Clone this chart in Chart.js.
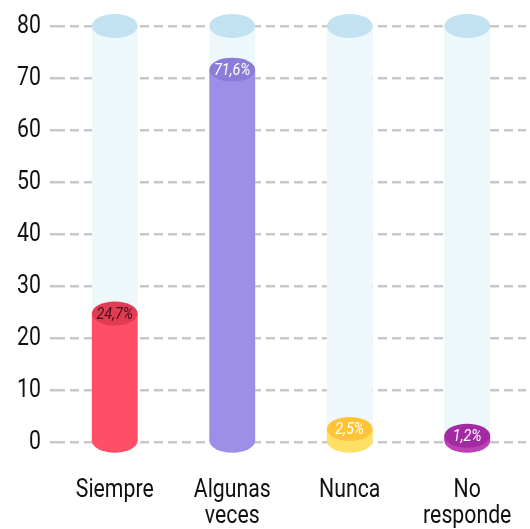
<!DOCTYPE html>
<html>
<head>
<meta charset="utf-8">
<script src="https://cdn.jsdelivr.net/npm/chart.js@4"></script>
<style>
  html, body { margin: 0; padding: 0; background: #fff; }
  #wrap { width: 530px; height: 529px; }
</style>
</head>
<body>
<div id="wrap"><canvas id="chart" width="530" height="529"></canvas></div>
<script>
// chart data
const categories = [['Siempre'], ['Algunas', 'veces'], ['Nunca'], ['No', 'responde']];
const values = [24.7, 71.6, 2.5, 1.2];
const maxValues = [80, 80, 80, 80];
const valueLabels = ['24,7%', '71,6%', '2,5%', '1,2%'];
const yTicks = [0, 10, 20, 30, 40, 50, 60, 70, 80];

// colours
const bodyColors = ['#ff4f68', '#9d8ee8', '#ffe066', '#bb40b5'];
const topColors = ['#e23c55', '#8a7cd8', '#ffc435', '#a32aa2'];
const labelColors = ['#4a0f1a', '#ffffff', '#ffffff', '#ffffff'];
const ghostBody = '#eef7fa';
const ghostTop = '#c2e1f1';

const FONT = "Roboto, 'Liberation Sans', sans-serif";
const SQUEEZE = 0.85; // narrow the text like a condensed face

function ellipse(ctx, x, y, rx, ry, color) {
    ctx.beginPath();
    ctx.ellipse(x, y, rx, ry, 0, 0, Math.PI * 2);
    ctx.fillStyle = color;
    ctx.fill();
}

function cylinder(ctx, x, top, bottom, w, body, cap, withBottom) {
    const rx = w / 2, ry = 12;
    ctx.fillStyle = body;
    ctx.fillRect(x - rx, top, w, bottom - top);
    if (withBottom) ellipse(ctx, x, bottom, rx, ry, body);
    ellipse(ctx, x, top, rx, ry, cap);
}

function narrowText(ctx, text, x, y, align) {
    ctx.save();
    ctx.translate(x, y);
    ctx.scale(SQUEEZE, 1);
    ctx.textAlign = align;
    ctx.fillText(text, 0, 0);
    ctx.restore();
}

const cylinderPlugin = {
    id: 'cylinders',
    afterDatasetsDraw(chart) {
        const ctx = chart.ctx;
        const ghost = chart.getDatasetMeta(0).data;
        const bars = chart.getDatasetMeta(1).data;
        ctx.save();
        ghost.forEach(el => {
            cylinder(ctx, el.x, el.y, el.base, el.width, ghostBody, ghostTop, false);
        });
        bars.forEach((el, i) => {
            cylinder(ctx, el.x, el.y, el.base, el.width, bodyColors[i], topColors[i], true);
            ctx.fillStyle = labelColors[i];
            ctx.font = 'italic 17px ' + FONT;
            ctx.textBaseline = 'middle';
            narrowText(ctx, valueLabels[i], el.x, el.y + 1, 'center');
        });
        ctx.restore();
    },
    afterDraw(chart) {
        const ctx = chart.ctx;
        const xs = chart.scales.x, ys = chart.scales.y;
        ctx.save();
        ctx.fillStyle = '#111';
        ctx.font = '25px ' + FONT;
        ctx.textBaseline = 'middle';
        yTicks.forEach(v => {
            narrowText(ctx, String(v), 41, ys.getPixelForValue(v) + 1, 'right');
        });
        ctx.textBaseline = 'alphabetic';
        categories.forEach((lines, i) => {
            const x = xs.getPixelForValue(i);
            lines.forEach((line, k) => {
                narrowText(ctx, line, x, ys.bottom + 55 + k * 26, 'center');
            });
        });
        ctx.restore();
    }
};

new Chart(document.getElementById('chart'), {
    type: 'bar',
    data: {
        labels: categories,
        datasets: [
            {
                data: maxValues,
                backgroundColor: 'rgba(0,0,0,0)',
                grouped: false,
                barPercentage: 0.39,
                categoryPercentage: 1
            },
            {
                data: values,
                backgroundColor: 'rgba(0,0,0,0)',
                grouped: false,
                barPercentage: 0.39,
                categoryPercentage: 1
            }
        ]
    },
    options: {
        responsive: false,
        animation: false,
        layout: { padding: { top: 26, right: 4, left: 0, bottom: 0 } },
        plugins: {
            legend: { display: false },
            tooltip: { enabled: false }
        },
        scales: {
            x: {
                grid: { display: false, drawTicks: false },
                border: { display: false },
                ticks: { display: false },
                afterFit(axis) {
                    axis.height = 87;
                    axis.paddingLeft = 0;
                    axis.paddingRight = 0;
                }
            },
            y: {
                min: yTicks[0],
                max: yTicks[yTicks.length - 1],
                afterBuildTicks(axis) {
                    axis.ticks = yTicks.map(v => ({ value: v }));
                },
                border: { display: false, dash: [9, 5] },
                grid: {
                    color: '#c8c8cc',
                    lineWidth: 2.5,
                    drawTicks: true,
                    tickLength: 6,
                    tickBorderDash: [9, 5],
                    tickColor: '#c8c8cc'
                },
                ticks: { display: false },
                afterFit(axis) {
                    axis.width = 56;
                    axis.paddingTop = 0;
                    axis.paddingBottom = 0;
                }
            }
        }
    },
    plugins: [cylinderPlugin]
});
</script>
</body>
</html>
